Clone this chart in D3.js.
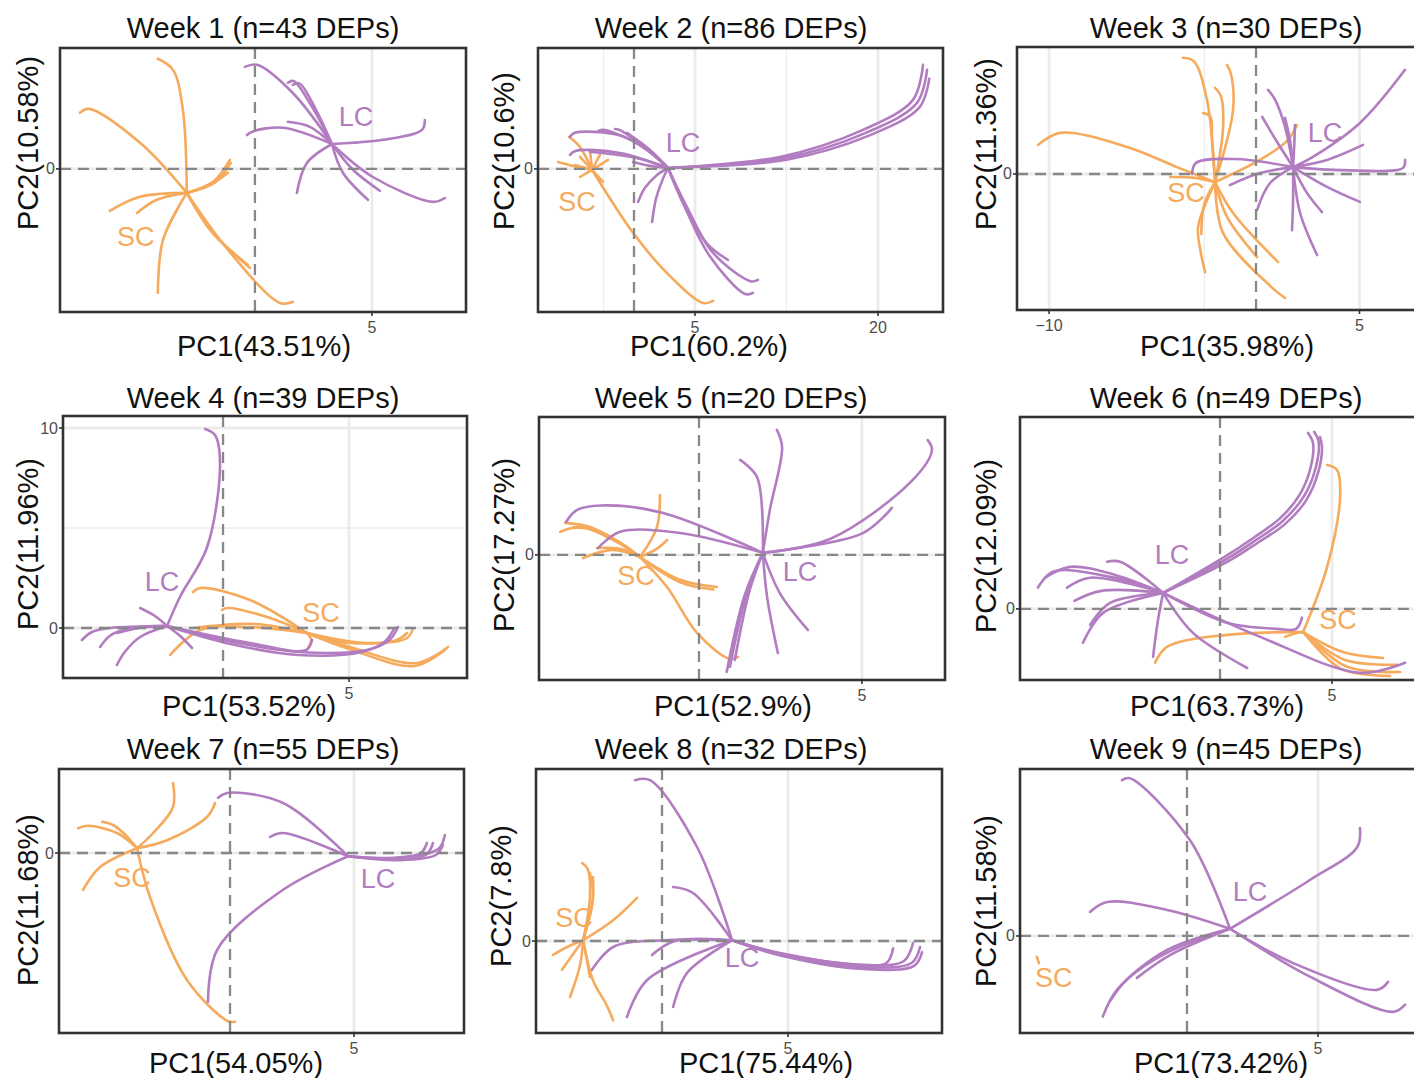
<!DOCTYPE html>
<html><head><meta charset="utf-8">
<script src="https://cdn.jsdelivr.net/npm/d3@7"></script>
<style>body{margin:0;background:#fff;overflow:hidden}</style>
</head><body><svg id="c" width="1414" height="1078"></svg>
<script>
// ---------------- DATA ----------------
const titles = ["Week 1 (n=43 DEPs)","Week 2 (n=86 DEPs)","Week 3 (n=30 DEPs)",
  "Week 4 (n=39 DEPs)","Week 5 (n=20 DEPs)","Week 6 (n=49 DEPs)",
  "Week 7 (n=55 DEPs)","Week 8 (n=32 DEPs)","Week 9 (n=45 DEPs)"];
const pc1Labels = ["PC1(43.51%)","PC1(60.2%)","PC1(35.98%)","PC1(53.52%)","PC1(52.9%)","PC1(63.73%)","PC1(54.05%)","PC1(75.44%)","PC1(73.42%)"];
const pc2Labels = ["PC2(10.58%)","PC2(10.6%)","PC2(11.36%)","PC2(11.96%)","PC2(17.27%)","PC2(12.09%)","PC2(11.68%)","PC2(7.8%)","PC2(11.58%)"];

const xDomains = [[-8.33,9.02],[-7.87,25.33],[-11.55,8.02],[-6.35,9.68],[-4.91,7.55],[-8.93,9.15],[-6.90,9.44],[-5.0,11.11],[-6.37,9.08]];
const yDomains = [[-4.77,4.03],[-4.77,4.03],[-4.53,4.23],[-2.5,10.6],[-4.17,4.6],[-1.78,4.8],[-4.5,2.1],[-2.3,4.3],[-2.43,4.18]];

const xMajor = [[5],[5,20],[-10,5],[5],[5],[5],[5],[5],[5]];
const xMinor = [[],[-2.5,12.5],[-2.5],[],[],[],[],[],[]];
const yMajor = [[0],[0],[0],[0,10],[0],[0],[0],[0],[0]];
const yMinor = [[],[],[],[5],[],[],[],[],[]];

const scCentroids = [[-2.91,-0.80],[-3.44,-0.03],[-1.98,-0.27],[3.33,-0.25],[-1.81,-0.07],[3.71,-0.58],[-3.75,0.12],[-3.13,0.02],[-5.65,-0.68]];
const lcCentroids = [[3.29,0.83],[2.79,0.03],[1.79,0.23],[-2.22,0.1],[1.96,0.07],[-2.54,0.40],[4.76,-0.08],[2.78,0.02],[1.64,0.18]];

// each spoke: points from the sample end toward the group centroid
const scSpokes = [
 [ [[-4.15,3.67],[-3.50,3.30],[-3.08,1.97]], [[-7.48,1.87],[-7.10,2.0],[-4.91,0.87]],
   [[-1.07,0.30],[-1.79,-0.43]], [[-1.03,0.20],[-1.70,-0.45]], [[-1.15,-0.13],[-1.85,-0.50]],
   [[-6.20,-1.40],[-4.91,-0.93]], [[-5.04,-1.47],[-4.19,-1.03]], [[-4.15,-4.13],[-3.93,-2.37]],
   [[-0.21,-3.30],[-1.79,-2.13]], [[-0.30,-3.20],[-1.85,-2.10]], [[1.62,-4.43],[1.07,-4.47],[-1.15,-2.70]] ],
 [ [[6.48,-4.40],[5.66,-4.47],[2.70,-3.47],[-0.08,-2.13]], [[-5.33,1.07],[-4.43,0.73]],
   [[-6.23,0.23],[-5.0,0.1]], [[-4.43,0.40]], [[-3.61,0.63]], [[-2.79,0.47]], [[-2.13,0.30]],
   [[-2.54,-0.43]], [[-4.43,-0.27]], [[-4.84,0.13]] ],
 [ [[-10.53,0.97],[-9.47,1.37],[-6.23,0.90],[-3.82,0.23]],
   [[-3.53,3.87],[-3.0,3.75],[-2.37,2.47]], [[-1.40,3.63],[-1.2,3.3],[-1.11,2.13]],
   [[-1.98,2.87],[-1.7,2.6],[-1.59,1.57]], [[-2.56,2.03],[-2.2,1.9],[-2.13,1.13]],
   [[1.98,1.63],[1.5,1.1],[0.19,0.47]], [[-4.15,-0.10],[-2.95,-0.13]],
   [[-2.46,-3.27],[-2.7,-2.5],[-2.80,-1.77]], [[0.05,-2.77],[-1.40,-1.43]], [[1.06,-2.93],[-1.11,-1.30]],
   [[1.40,-4.13],[0.8,-3.8],[-1.59,-1.97]], [[-2.65,-2.0],[-2.5,-1.0]] ],
 [ [[-1.19,1.80],[-0.91,2.0],[1.07,1.40]], [[-0.04,0.90],[0.16,1.0],[1.75,0.55]],
   [[-2.10,-1.35],[-0.91,-0.1],[1.07,0.05]], [[-1.19,0.0],[1.27,0.2]],
   [[7.54,0.0],[7.3,-0.5],[5.71,-0.75]], [[8.93,-0.95],[7.70,-1.75],[5.04,-0.95]],
   [[8.8,-1.1],[7.6,-1.9],[5.0,-1.05]], [[7.30,-0.25],[6.9,-0.6],[5.04,-0.75]], [[3.37,-1.0],[3.5,-0.6]] ],
 [ [[-4.26,0.77],[-3.65,0.93],[-2.64,0.5]], [[-4.11,1.07],[-3.34,0.93],[-2.5,0.45]],
   [[-3.9,0.9],[-3.2,0.85],[-2.4,0.4]], [[-3.56,-0.1],[-2.64,0.17]], [[-3.13,0.23],[-2.4,0.2]],
   [[-1.20,2.0],[-1.29,0.93]], [[-0.98,0.5],[-1.3,0.2]], [[0.55,-1.07],[-0.58,-0.83]],
   [[0.45,-1.15],[-0.6,-0.9]], [[1.20,-3.4],[0.9,-3.45],[-0.06,-2.6],[-0.98,-1.07]] ],
 [ [[4.78,3.6],[5.22,3.48],[5.36,2.8],[4.78,1.05]], [[-2.90,-1.35],[-2.37,-0.95],[0.31,-0.65]],
   [[2.90,-0.70],[3.3,-0.62]], [[7.28,-1.23],[5.49,-1.08]], [[7.90,-1.40],[5.58,-1.28]],
   [[8.04,-1.58],[5.67,-1.45]], [[7.59,-1.68],[5.4,-1.5]] ],
 [ [[-2.30,1.75],[-2.30,1.15],[-3.10,0.50]], [[-0.60,1.25],[-0.93,0.90],[-2.54,0.32]],
   [[-6.13,0.62],[-5.73,0.68],[-4.56,0.50]], [[-5.16,0.78],[-4.72,0.70],[-4.3,0.5]],
   [[-5.93,-0.92],[-5.24,-0.35]], [[0.20,-4.22],[-0.1,-4.2],[-1.73,-3.18],[-3.23,-1.10]] ],
 [ [[-3.17,1.95],[-2.95,1.8],[-2.86,1.10]], [[-2.86,1.70],[-2.74,1.10]], [[-2.74,1.60],[-2.75,1.0]],
   [[-0.99,1.08],[-1.94,0.52]], [[-4.33,-0.35],[-3.77,-0.15]], [[-3.97,-0.72],[-3.5,-0.3]],
   [[-3.65,-1.40],[-3.25,-0.60]], [[-2.86,-0.90],[-3.0,-0.4]], [[-1.94,-1.98],[-2.2,-1.6],[-2.74,-0.98]] ],
 [ [[-5.73,-0.52]] ]
];
const lcSpokes = [
 [ [[-0.43,3.40],[0.09,3.47],[1.62,2.53]], [[1.41,2.87],[1.65,2.93],[2.44,2.07]], [[1.62,2.80],[1.9,2.85],[2.61,1.97]],
   [[-0.34,1.13],[-0.09,1.25],[1.20,1.37]], [[1.41,1.57],[2.35,1.40]], [[7.26,1.63],[7.14,1.30],[5.47,0.97]],
   [[1.79,-0.80],[2.22,0.20]], [[4.83,-1.03],[3.76,-0.13]], [[5.34,-0.73],[4.19,-0.03]],
   [[8.12,-0.97],[7.61,-1.10],[5.04,-0.27]] ],
 [ [[23.69,3.47],[22.87,2.30],[18.77,1.30],[11.97,0.40]], [[24.02,3.30],[23.2,2.2],[19.0,1.2],[12.2,0.35]],
   [[24.2,3.0],[23.4,2.05],[19.2,1.1],[12.4,0.3]],
   [[10.16,-3.70],[9.6,-3.75],[6.48,-2.80],[4.34,-1.27]], [[9.75,-4.13],[9.1,-4.17],[6.2,-2.9],[4.2,-1.3]],
   [[7.70,-3.03],[6.0,-2.5],[4.1,-1.2]], [[0.33,-1.10],[0.90,-0.63],[1.89,-0.20]], [[1.48,-1.77],[1.8,-1.0],[2.30,-0.40]],
   [[-5.25,1.07],[-4.9,1.2],[-1.0,1.1],[1.5,0.5]], [[-3.03,1.23],[-2.6,1.3],[0.49,0.80]],
   [[-1.56,1.33],[-1.2,1.3],[0.90,0.70]], [[-0.57,1.20],[1.31,0.63]], [[-5.25,0.47],[-4.8,0.6],[-1.15,0.53]],
   [[-3.61,0.57],[0.08,0.37]], [[-0.08,0.23],[1.31,0.1]] ],
 [ [[7.20,3.47],[5.02,1.70],[2.75,0.57]], [[-3.09,0.0],[-2.9,0.37],[-1.0,0.5]],
   [[0.58,2.80],[0.9,2.5],[1.40,1.57]], [[1.40,1.87],[1.64,1.13]], [[1.88,1.63],[1.85,1.0]], [[0.3,1.9],[0.9,1.2]],
   [[5.17,0.97],[3.43,0.47]], [[7.20,0.47],[7.1,0.2],[4.20,0.13]], [[5.02,-0.93],[3.43,-0.43]],
   [[3.19,-1.27],[2.46,-0.63]], [[2.95,-2.70],[2.13,-1.30]], [[1.74,-1.87],[1.79,-0.87]],
   [[0.05,-1.20],[0.68,-0.30]], [[-1.26,-0.37],[0.19,0.03]] ],
 [ [[-0.71,9.95],[-0.32,9.65],[-0.12,8.25],[-0.63,4.05],[-1.71,1.55]],
   [[-5.60,-0.60],[-5.2,-0.2],[-4.48,0.0]], [[-4.88,-0.95],[-4.5,-0.4],[-3.97,-0.10]],
   [[-4.21,-1.85],[-3.9,-1.2],[-3.29,-0.45]], [[-3.29,0.05],[-2.7,0.1]], [[-4.21,-0.25],[-3.1,0.05]],
   [[-3.29,1.0],[-2.7,0.6]], [[-1.23,-1.0],[-1.7,-0.4]],
   [[6.94,0.05],[6.6,-0.6],[5.71,-1.1],[3.06,-1.2],[0.40,-0.70]], [[6.8,0.0],[6.4,-0.7],[5.5,-1.2],[3.0,-1.35],[0.3,-0.8]],
   [[3.53,-0.60],[3.3,-1.1],[1.07,-0.75]] ],
 [ [[-4.08,1.10],[-3.74,1.5],[-3.0,1.65],[-1.10,1.4]], [[-3.10,0.23],[-2.42,0.77],[-0.58,0.73]],
   [[2.39,4.17],[2.55,3.6],[2.18,1.53]], [[1.26,3.17],[1.78,2.6]],
   [[7.02,3.83],[7.15,3.5],[6.56,2.5],[4.02,0.53]], [[5.92,1.57],[5.03,0.73]],
   [[0.95,-3.73],[1.47,-1.27]], [[1.1,-3.5],[1.55,-1.2]], [[0.85,-3.9],[1.4,-1.35]],
   [[2.42,-3.27],[2.09,-1.4]], [[3.34,-2.5],[2.48,-1.27]] ],
 [ [[3.93,4.40],[4.15,4.15],[4.05,3.55],[3.55,2.85],[2.65,2.25],[1.50,1.78],[0.20,1.30]],
   [[4.20,4.43],[4.40,4.18],[4.28,3.55],[3.75,2.82],[2.80,2.20],[1.60,1.72],[0.30,1.25]],
   [[4.46,4.30],[4.55,4.05],[4.40,3.45],[3.85,2.72],[2.90,2.12],[1.70,1.66],[0.40,1.20]],
   [[-8.13,0.53],[-7.46,0.93],[-4.91,0.80]], [[-7.81,0.78],[-6.70,1.05],[-4.69,0.85]],
   [[-6.83,0.53],[-5.80,0.78]], [[-5.04,1.18],[-4.46,1.18]], [[-6.12,-0.85],[-5.22,-0.10]],
   [[-5.80,-0.40],[-4.91,0.15]], [[-6.5,0.2],[-5.3,0.45]], [[-2.99,-1.20],[-2.77,-0.28]],
   [[1.21,-1.48],[-1.21,-0.60]], [[3.66,-0.22],[3.4,-0.5],[2.54,-0.50],[0.31,-0.35]],
   [[8.26,-1.35],[6.25,-1.60],[1.79,-0.70]] ],
 [ [[-0.48,1.38],[-0.12,1.50],[2.14,1.25]], [[1.61,0.40],[2.14,0.50]],
   [[-0.89,-3.72],[-0.52,-2.42],[2.14,-0.92]], [[8.67,0.45],[8.4,0.1],[6.85,-0.12]],
   [[8.59,0.20],[8.3,-0.05],[6.85,-0.18]], [[8.19,0.25],[7.9,-0.05],[6.7,-0.15]], [[7.94,0.25],[7.7,0.0],[6.6,-0.12]] ],
 [ [[-1.07,4.02],[-0.48,4.02],[1.39,2.35]], [[0.44,1.35],[1.23,1.20]],
   [[-2.78,-0.72],[-1.94,-0.15],[0.04,0.02]], [[-0.40,-0.35],[0.5,0.0]],
   [[-1.39,-1.90],[-0.60,-0.98]], [[0.44,-1.65],[0.99,-0.80]],
   [[9.96,-0.05],[9.6,-0.5],[7.98,-0.60],[4.68,-0.30]], [[10.24,-0.15],[9.9,-0.55],[8.0,-0.65],[4.7,-0.33]],
   [[10.32,-0.28],[10.0,-0.62],[8.0,-0.7],[4.7,-0.36]], [[9.17,-0.18],[8.9,-0.55],[7.6,-0.58],[4.6,-0.3]] ],
 [ [[-2.48,3.90],[-2.18,3.95],[0.11,2.40]], [[-3.70,0.60],[-3.05,0.85],[-0.76,0.65]],
   [[6.60,2.70],[6.49,2.22],[4.69,1.40]], [[-3.21,-2.02],[-2.67,-1.35],[-0.76,-0.35]],
   [[-1.91,-1.05],[-0.65,-0.48]], [[-2.9,-1.6],[-2.3,-1.1],[-0.7,-0.4]],
   [[7.67,-1.15],[7.25,-1.35],[4.05,-0.68]], [[8.32,-1.72],[7.86,-1.90],[4.69,-1.02]] ]
];
const scLabelPos = [[-5.09,-2.27],[-4.67,-1.10],[-3.38,-0.63],[3.89,0.75],[-1.93,-0.7],[5.27,-0.28],[-3.95,-0.62],[-3.49,0.58],[-5.08,-1.05]];
const lcLabelPos = [[4.32,1.73],[4.02,0.87],[3.33,1.37],[-2.42,2.3],[3.1,-0.57],[-2.14,1.35],[5.97,-0.65],[3.17,-0.42],[2.40,1.10]];

// ---------------- LAYOUT ----------------
const boxes = [[60,48,466,312],[538,48,943,312],[1017,47,1422,310],
               [63,416,467,678],[539,417,945,680],[1020,417,1425,680],
               [59,769,464,1033],[536,769,942,1033],[1020,769,1425,1033]];
const titlePos = [[263,38],[731,38],[1226,38],[263,408],[731,408],[1226,408],[263,759],[731,759],[1226,759]];
const xLabPos = [[264,356],[709,356],[1227,356],[249,716],[733,716],[1217,716],[236,1073],[766,1073],[1221,1073]];
const yLabPos = [[38,143],[514,151],[996,144],[38,544],[514,545],[996,546],[38,900],[511,896],[996,901]];

const SC_COL = "#F5AA5C", LC_COL = "#B27CC1";
const FONT = "'Liberation Sans', Arial, sans-serif";

const svg = d3.select("#c");
svg.append("rect").attr("width",1414).attr("height",1078).attr("fill","#fff");

titles.forEach((t,i)=>{
  const [L,T,R,B] = boxes[i];
  const x = d3.scaleLinear().domain(xDomains[i]).range([L,R]);
  const y = d3.scaleLinear().domain(yDomains[i]).range([B,T]);
  const g = svg.append("g");
  const clipId = "clip"+i;
  svg.append("clipPath").attr("id",clipId).append("rect")
     .attr("x",L).attr("y",T).attr("width",R-L).attr("height",B-T);
  const pg = g.append("g").attr("clip-path",`url(#${clipId})`);

  // grid
  xMinor[i].forEach(v=>pg.append("line").attr("x1",x(v)).attr("x2",x(v)).attr("y1",T).attr("y2",B)
     .attr("stroke","#EDEDED").attr("stroke-width",1.3));
  yMinor[i].forEach(v=>pg.append("line").attr("y1",y(v)).attr("y2",y(v)).attr("x1",L).attr("x2",R)
     .attr("stroke","#EDEDED").attr("stroke-width",1.3));
  xMajor[i].forEach(v=>pg.append("line").attr("x1",x(v)).attr("x2",x(v)).attr("y1",T).attr("y2",B)
     .attr("stroke","#EBEBEB").attr("stroke-width",2.8));
  yMajor[i].forEach(v=>pg.append("line").attr("y1",y(v)).attr("y2",y(v)).attr("x1",L).attr("x2",R)
     .attr("stroke","#EBEBEB").attr("stroke-width",2.8));

  const line = d3.line().x(d=>x(d[0])).y(d=>y(d[1])).curve(d3.curveCatmullRom.alpha(0.5));
  const drawGroup = (spokes, cen, col) => {
    spokes[i].forEach(s=>{
      pg.append("path").attr("d", line(s.concat([cen[i]])))
        .attr("fill","none").attr("stroke",col).attr("stroke-width",2.6)
        .attr("stroke-linecap","round");
    });
  };
  drawGroup(scSpokes, scCentroids, SC_COL);
  drawGroup(lcSpokes, lcCentroids, LC_COL);

  // dashed zero lines
  pg.append("line").attr("x1",x(0)).attr("x2",x(0)).attr("y1",T).attr("y2",B)
    .attr("stroke","#888").attr("stroke-width",2.3).attr("stroke-dasharray","11,7");
  pg.append("line").attr("y1",y(0)).attr("y2",y(0)).attr("x1",L).attr("x2",R)
    .attr("stroke","#888").attr("stroke-width",2.3).attr("stroke-dasharray","11,7");

  // group labels
  pg.append("text").attr("x",x(scLabelPos[i][0])).attr("y",y(scLabelPos[i][1]))
    .attr("text-anchor","middle").attr("dominant-baseline","central")
    .attr("font-family",FONT).attr("font-size",27).attr("fill",SC_COL).text("SC");
  pg.append("text").attr("x",x(lcLabelPos[i][0])).attr("y",y(lcLabelPos[i][1]))
    .attr("text-anchor","middle").attr("dominant-baseline","central")
    .attr("font-family",FONT).attr("font-size",27).attr("fill",LC_COL).text("LC");

  // box
  g.append("rect").attr("x",L).attr("y",T).attr("width",R-L).attr("height",B-T)
    .attr("fill","none").attr("stroke","#333").attr("stroke-width",2.6);

  // ticks
  xMajor[i].forEach(v=>{
    g.append("line").attr("x1",x(v)).attr("x2",x(v)).attr("y1",B).attr("y2",B+4)
      .attr("stroke","#333").attr("stroke-width",1.6);
    g.append("text").attr("x",x(v)).attr("y",B+21).attr("text-anchor","middle")
      .attr("font-family",FONT).attr("font-size",16).attr("fill","#4D4D4D")
      .text(v<0 ? "\u2212"+Math.abs(v) : v);
  });
  yMajor[i].forEach(v=>{
    g.append("line").attr("x1",L-4).attr("x2",L).attr("y1",y(v)).attr("y2",y(v))
      .attr("stroke","#333").attr("stroke-width",1.6);
    g.append("text").attr("x",L-5).attr("y",y(v)).attr("text-anchor","end")
      .attr("dominant-baseline","central")
      .attr("font-family",FONT).attr("font-size",16).attr("fill","#4D4D4D").text(v);
  });

  // titles and axis labels
  g.append("text").attr("x",titlePos[i][0]).attr("y",titlePos[i][1]).attr("text-anchor","middle")
    .attr("font-family",FONT).attr("font-size",29).attr("fill","#111").text(t);
  g.append("text").attr("x",xLabPos[i][0]).attr("y",xLabPos[i][1]).attr("text-anchor","middle")
    .attr("font-family",FONT).attr("font-size",29).attr("fill","#111").text(pc1Labels[i]);
  g.append("text").attr("transform",`translate(${yLabPos[i][0]},${yLabPos[i][1]}) rotate(-90)`)
    .attr("text-anchor","middle")
    .attr("font-family",FONT).attr("font-size",29).attr("fill","#111").text(pc2Labels[i]);
});
</script></body></html>
